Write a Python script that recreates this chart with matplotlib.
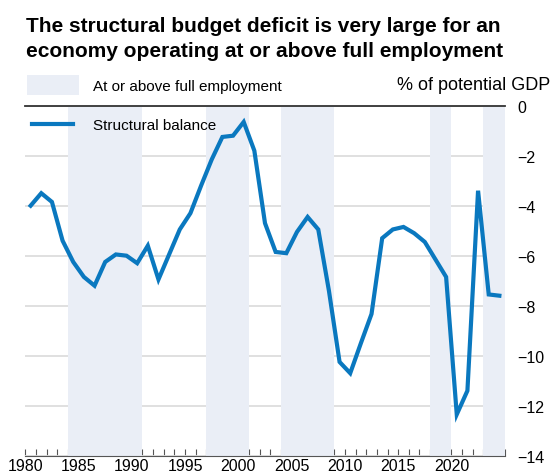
import numpy as np
import matplotlib
matplotlib.use("Agg")
import matplotlib.pyplot as plt
from matplotlib.patches import Patch
from matplotlib.lines import Line2D

plt.rcParams['font.family'] = ['Liberation Sans', 'DejaVu Sans']

# structural balance, % of potential GDP (annual, 1980-2024)
years = np.arange(1980, 2025)
balance = [-4.0, -3.5, -3.85, -5.4, -6.25, -6.85, -7.2, -6.25, -5.95, -6.0,
           -6.3, -5.6, -6.95, -5.95, -4.95, -4.3, -3.2, -2.15, -1.25, -1.2,
           -0.65, -1.8, -4.7, -5.85, -5.9, -5.05, -4.45, -4.95, -7.4, -10.25,
           -10.7, -9.5, -8.33, -5.3, -4.95, -4.85, -5.1, -5.45, -6.15, -6.85,
           -12.35, -11.4, -3.4, -7.55, -7.6]

# periods at or above full employment
span_start = [1984, 1997, 2004, 2018, 2023]
span_end = [1991, 2001, 2009, 2020, 2025]

title_lines = ['The structural budget deficit is very large for an',
               'economy operating at or above full employment']

blue = '#0a78bf'
shade = '#eaeef6'

W, H = 552, 477
fig = plt.figure(figsize=(W/100, H/100), dpi=100)
ax = fig.add_axes([25.3/W, 1 - 456.7/H, 479.4/W, 350/H])

for s, e in zip(span_start, span_end):
    ax.axvspan(s, e, color=shade, lw=0, zorder=1)

ax.plot(years + 0.5, balance, color=blue, lw=3.0, zorder=3,
        solid_joinstyle='miter')

ax.set_xlim(1980, 2025)
ax.set_ylim(-14, 0)

ax.set_xticks(np.arange(1980, 2026))
ax.set_xticklabels([str(y) if y % 5 == 0 and y < 2025 else '' for y in range(1980, 2026)])
ax.set_yticks(np.arange(-14, 1, 2))
ax.yaxis.tick_right()
ax.tick_params(axis='x', direction='in', length=5, width=0.8, color='#555555',
               labelsize=11.5, pad=2)
ax.tick_params(axis='y', length=0, labelsize=11.5, pad=9)
for lab in ax.get_yticklabels():
    lab.set_horizontalalignment('left')

ax.grid(axis='y', color='#dddddd', lw=1.3, zorder=0)
ax.set_axisbelow(True)
for side in ['left', 'right']:
    ax.spines[side].set_visible(False)
ax.spines['top'].set_color('#333333')
ax.spines['top'].set_linewidth(1.3)
ax.spines['bottom'].set_color('#555555')
ax.spines['bottom'].set_linewidth(0.8)

# legends
fs = 11
px = fs * 100 / 72
leg1 = ax.legend([Patch(facecolor=shade, edgecolor='none')],
                 ['At or above full employment'],
                 loc='center left', bbox_to_anchor=(26.7/W, 1 - 86/H),
                 bbox_transform=fig.transFigure, frameon=False, fontsize=fs,
                 handlelength=52/px, handleheight=25/px, handletextpad=14/px,
                 borderpad=0, borderaxespad=0)
ax.add_artist(leg1)
ax.legend([Line2D([], [], color=blue, lw=3.0)], ['Structural balance'],
          loc='center left', bbox_to_anchor=(32/W, 1 - 126/H),
          bbox_transform=fig.transFigure, frameon=False, fontsize=fs,
          handlelength=41/px, handletextpad=20/px,
          borderpad=0, borderaxespad=0)

fig.text(550/W, 1 - 85/H, '% of potential GDP', ha='right', va='center', fontsize=13)
for line, base in zip(title_lines, [32.3, 56.7]):
    fig.text(26/W, 1 - base/H, line, ha='left', va='baseline',
             fontsize=15, fontweight='bold')

fig.savefig('out.png', dpi=100)
